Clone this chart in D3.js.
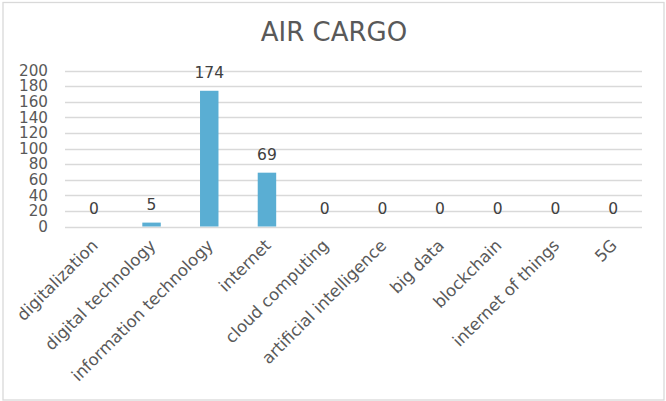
<!DOCTYPE html>
<html>
<head>
<meta charset="utf-8">
<script src="https://cdn.jsdelivr.net/npm/d3@7"></script>
<style>
  html, body { margin: 0; padding: 0; background: #fff; }
  svg { display: block; }
  text { font-family: "DejaVu Sans", Verdana, sans-serif; }
</style>
</head>
<body>
<div id="chart"></div>
<script>
// Keyword counts for the air cargo sector
const categories = [
  "digitalization", "digital technology", "information technology", "internet",
  "cloud computing", "artificial intelligence", "big data", "blockchain",
  "internet of things", "5G"
];
const counts = [0, 5, 174, 69, 0, 0, 0, 0, 0, 0];
const yTicks = [0, 20, 40, 60, 80, 100, 120, 140, 160, 180, 200];
const chartTitle = "AIR CARGO";

const W = 666, H = 401;
const plot = { left: 65, right: 642, top: 70.5, bottom: 226.5 };

const svg = d3.select("#chart").append("svg")
  .attr("width", W).attr("height", H);

// outer frame
svg.append("rect")
  .attr("x", 3).attr("y", 2.5)
  .attr("width", 661).attr("height", 397.5)
  .attr("fill", "#fff")
  .attr("stroke", "#d9d9d9").attr("stroke-width", 1.3);

const x = d3.scaleBand()
  .domain(categories)
  .range([plot.left, plot.right])
  .paddingInner(0.68)
  .paddingOuter(0.34);

const y = d3.scaleLinear()
  .domain([0, 200])
  .range([plot.bottom, plot.top]);

// title
svg.append("text")
  .attr("x", 334).attr("y", 41)
  .attr("text-anchor", "middle")
  .attr("font-size", 26)
  .attr("fill", "#595959")
  .text(chartTitle);

// horizontal gridlines
svg.append("g")
  .selectAll("line")
  .data(yTicks)
  .join("line")
  .attr("x1", plot.left).attr("x2", plot.right)
  .attr("y1", d => Math.round(y(d)) + 0.5)
  .attr("y2", d => Math.round(y(d)) + 0.5)
  .attr("stroke", "#d9d9d9")
  .attr("stroke-width", 1.3);

// y axis labels
const yAxis = d3.axisLeft(y).tickValues(yTicks).tickSize(0).tickPadding(0);
const gy = svg.append("g")
  .attr("transform", `translate(48,0)`)
  .call(yAxis);
gy.select(".domain").remove();
gy.selectAll("text")
  .attr("font-family", "DejaVu Sans, Verdana, sans-serif")
  .attr("font-size", 15.2)
  .attr("fill", "#595959");

// bars
svg.append("g")
  .selectAll("rect")
  .data(categories)
  .join("rect")
  .attr("x", d => x(d))
  .attr("width", x.bandwidth())
  .attr("y", (d, i) => y(counts[i]))
  .attr("height", (d, i) => y(0) - y(counts[i]))
  .attr("fill", "#5aaed3");

// value labels
svg.append("g")
  .selectAll("text")
  .data(categories)
  .join("text")
  .attr("x", d => x(d) + x.bandwidth() / 2)
  .attr("y", (d, i) => y(counts[i]) - 12.5)
  .attr("text-anchor", "middle")
  .attr("font-size", 15.5)
  .attr("fill", "#404040")
  .text((d, i) => counts[i]);

// category labels, rotated
const xAxis = d3.axisBottom(x).tickSize(0).tickPadding(0);
const gx = svg.append("g")
  .attr("transform", `translate(0,${plot.bottom})`)
  .call(xAxis);
gx.select(".domain").remove();
gx.selectAll("text")
  .attr("font-family", "DejaVu Sans, Verdana, sans-serif")
  .attr("font-size", 16.5)
  .attr("fill", "#595959")
  .attr("text-anchor", "end")
  .attr("dy", null)
  .attr("y", 0)
  .attr("transform", "translate(5,20) rotate(-45)");
</script>
</body>
</html>
